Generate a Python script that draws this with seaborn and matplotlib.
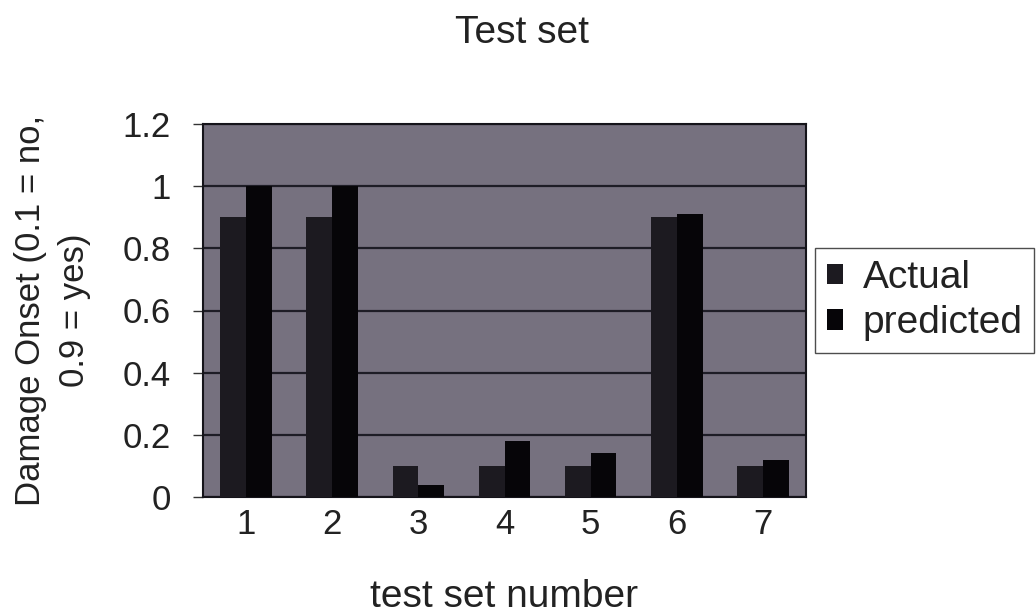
import matplotlib
matplotlib.use("Agg")
import matplotlib.pyplot as plt
import numpy as np
import pandas as pd
import seaborn as sns
from matplotlib.patches import Patch

# Test-set results: actual damage onset code vs. network prediction
test_sets = ["1", "2", "3", "4", "5", "6", "7"]
actual = [0.9, 0.9, 0.1, 0.1, 0.1, 0.9, 0.1]
predicted = [1.0, 1.0, 0.04, 0.18, 0.14, 0.91, 0.12]
series_names = ["Actual", "predicted"]
y_ticks = [0, 0.2, 0.4, 0.6, 0.8, 1.0, 1.2]
y_tick_labels = ["0", "0.2", "0.4", "0.6", "0.8", "1", "1.2"]

df = pd.DataFrame({
    "test set": test_sets * 2,
    "value": actual + predicted,
    "series": [series_names[0]] * len(test_sets) + [series_names[1]] * len(test_sets),
})

sns.set_style("white")
plt.rcParams["font.family"] = ["Liberation Sans", "DejaVu Sans"]
FS_TICK = 25
FS_TEXT = 28

text_color = "#222222"
bg_color = "#76717f"
bar_colors = {"Actual": "#1c1a20", "predicted": "#060508"}

fig = plt.figure(figsize=(10.36, 6.16), dpi=100)
ax = fig.add_axes([203 / 1036, 1 - 497 / 616, 603 / 1036, 373 / 616])
ax.set_facecolor(bg_color)

sns.barplot(data=df, x="test set", y="value", hue="series", order=test_sets,
            hue_order=series_names, palette=bar_colors, width=0.6,
            saturation=1, edgecolor="none", linewidth=0, ax=ax, legend=False,
            zorder=3)

ax.set_xlim(-0.5, len(test_sets) - 0.5)
ax.set_ylim(0, 1.2)
ax.set_yticks(y_ticks)
ax.set_yticklabels(y_tick_labels, fontsize=FS_TICK, color=text_color)
ax.yaxis.grid(True, color="#1e1d26", linewidth=1.6, zorder=1)
ax.xaxis.grid(False)
ax.set_axisbelow(True)

# category labels without marks, separators between categories
ax.tick_params(axis="x", which="major", length=0, pad=8, labelsize=FS_TICK,
               labelcolor=text_color)
ax.set_xticks(np.arange(-0.5, len(test_sets)), minor=True)
ax.tick_params(axis="x", which="minor", direction="out", length=7,
               width=1.0, color="#333333")
ax.tick_params(axis="y", direction="out", length=7, width=1.0,
               color="#333333", pad=16, left=True)

for side in ["left", "right", "top", "bottom"]:
    ax.spines[side].set_visible(True)
    ax.spines[side].set_color("#15141a")
    ax.spines[side].set_linewidth(1.5)

ax.set_xlabel("test set number", fontsize=FS_TEXT, color=text_color)
ax.xaxis.set_label_coords(0.5, -0.22)
ax.set_ylabel("Damage Onset (0.1 = no,\n0.9 = yes)", fontsize=FS_TICK,
              color=text_color, multialignment="center", linespacing=1.45)
ax.yaxis.set_label_coords(-0.185, 0.5)

fig.text(522 / 1036, 1 - 33 / 616, "Test set", ha="center", va="center",
         fontsize=FS_TEXT, color=text_color)

handles = [Patch(facecolor=bar_colors[s], edgecolor="none") for s in series_names]
leg = ax.legend(handles, series_names, loc="upper left",
                bbox_to_anchor=(815 / 1036, 1 - 248 / 616),
                bbox_transform=fig.transFigure, fontsize=FS_TEXT,
                frameon=True, fancybox=False, edgecolor="#222222",
                handlelength=0.42, handleheight=0.42, handletextpad=0.5,
                borderpad=0.3, labelspacing=0.25, borderaxespad=0)
leg.get_frame().set_linewidth(1.0)
for t in leg.get_texts():
    t.set_color(text_color)

fig.savefig("out.png", dpi=100, facecolor="white")
